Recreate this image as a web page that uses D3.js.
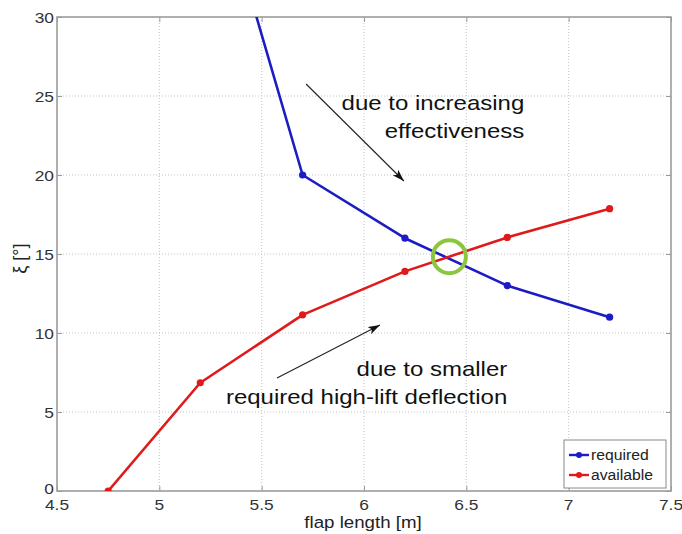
<!DOCTYPE html>
<html>
<head>
<meta charset="utf-8">
<script src="https://cdn.jsdelivr.net/npm/d3@7"></script>
<style>
  html, body { margin: 0; padding: 0; background: #fff; }
  svg { display: block; }
  text { font-family: "Liberation Sans", Arial, sans-serif; }
</style>
</head>
<body>
<script>
// ---- data ----
const xTicks = [4.5, 5, 5.5, 6, 6.5, 7, 7.5];
const yTicks = [0, 5, 10, 15, 20, 25, 30];
const requiredX = [5.2, 5.7, 6.2, 6.7, 7.2];
const requiredY = [42.2, 20.0, 16.0, 13.0, 11.0];
const availableX = [4.75, 5.2, 5.7, 6.2, 6.7, 7.2];
const availableY = [0.0, 6.85, 11.15, 13.9, 16.05, 17.87];
const seriesNames = ["required", "available"];
const seriesColors = ["#1c1cc4", "#e01a1a"];
const annotations = [
  { text: "due to increasing", x: 6.783, y: 24.11 },
  { text: "effectiveness", x: 6.783, y: 22.34 },
  { text: "due to smaller", x: 6.70, y: 7.28 },
  { text: "required high-lift deflection", x: 6.70, y: 5.5 }
];
const arrows = [
  { x1: 5.717, y1: 25.76, x2: 6.195, y2: 19.62 },
  { x1: 5.575, y1: 7.15, x2: 6.078, y2: 10.5 }
];
const highlight = { x: 6.417, y: 14.83 };

// ---- layout ----
const W = 682, H = 534;
const L = 57, R = 671, T = 17, B = 491;
const svg = d3.select("body").append("svg").attr("width", W).attr("height", H);
const x = d3.scaleLinear().domain([4.5, 7.5]).range([L, R]);
const y = d3.scaleLinear().domain([0, 30]).range([B, T]);

const defs = svg.append("defs");
defs.append("clipPath").attr("id", "clip").append("rect")
  .attr("x", L).attr("y", T).attr("width", R - L).attr("height", B - T);
defs.append("marker").attr("id", "ah").attr("viewBox", "0 0 12 8")
  .attr("refX", 12).attr("refY", 4).attr("markerWidth", 12).attr("markerHeight", 8)
  .attr("markerUnits", "userSpaceOnUse").attr("orient", "auto")
  .append("path").attr("d", "M0,0 L12,4 L0,8 L3,4 Z").attr("fill", "#111");

// grid
const grid = svg.append("g");
grid.selectAll("line.gx").data(xTicks.slice(1, -1)).join("line")
  .attr("x1", d => x(d)).attr("x2", d => x(d)).attr("y1", T).attr("y2", B)
  .attr("stroke", "#c4c4c4").attr("stroke-width", 1).attr("stroke-dasharray", "1,2");
grid.selectAll("line.gy").data(yTicks.slice(1, -1)).join("line")
  .attr("y1", d => y(d)).attr("y2", d => y(d)).attr("x1", L).attr("x2", R)
  .attr("stroke", "#c4c4c4").attr("stroke-width", 1).attr("stroke-dasharray", "1,2");

// axes via d3
const axX = svg.append("g").attr("transform", `translate(0,${B})`)
  .call(d3.axisTop(x).tickValues(xTicks).tickSize(5).tickFormat(""));
const axY = svg.append("g").attr("transform", `translate(${L},0)`)
  .call(d3.axisRight(y).tickValues(yTicks).tickSize(5).tickFormat(""));
const axX2 = svg.append("g").attr("transform", `translate(0,${T})`)
  .call(d3.axisBottom(x).tickValues(xTicks).tickSize(5).tickFormat(""));
const axY2 = svg.append("g").attr("transform", `translate(${R},0)`)
  .call(d3.axisLeft(y).tickValues(yTicks).tickSize(5).tickFormat(""));
[axX, axY, axX2, axY2].forEach(a => {
  a.selectAll("path.domain").remove();
  a.selectAll("line").attr("stroke", "#9a9a9a");
});
svg.append("rect").attr("x", L).attr("y", T).attr("width", R - L).attr("height", B - T)
  .attr("fill", "none").attr("stroke", "#9c9c9c").attr("stroke-width", 1.6);

// tick labels (slightly horizontally stretched like the reference)
const sx = 1.12;
svg.append("g").selectAll("text").data(xTicks).join("text")
  .attr("transform", d => `translate(${x(d)},${B + 19}) scale(${sx},1)`)
  .attr("text-anchor", "middle").attr("font-size", 15.5).attr("fill", "#333")
  .text(d => d);
svg.append("g").selectAll("text").data(yTicks).join("text")
  .attr("transform", d => `translate(${L - 3},${y(d) + (d === 0 ? 3 : 5.5)}) scale(${sx},1)`)
  .attr("text-anchor", "end").attr("font-size", 15.5).attr("fill", "#333")
  .text(d => d);

// axis titles
svg.append("text").attr("transform", `translate(${(L + R) / 2 - 1},${B + 37}) scale(1.1,1)`)
  .attr("text-anchor", "middle").attr("font-size", 17).attr("fill", "#222")
  .text("flap length [m]");
svg.append("text").attr("transform", `translate(26,${y(14.7)}) rotate(-90)`)
  .attr("text-anchor", "middle").attr("font-size", 18).attr("fill", "#222")
  .text("ξ [°]");

// series
const line = d3.line().x(d => x(d[0])).y(d => y(d[1]));
const series = [
  d3.zip(requiredX, requiredY),
  d3.zip(availableX, availableY)
];
const plot = svg.append("g").attr("clip-path", "url(#clip)");
series.forEach((pts, i) => {
  plot.append("path").datum(pts).attr("d", line).attr("fill", "none")
    .attr("stroke", seriesColors[i]).attr("stroke-width", 2.6).attr("stroke-linejoin", "round");
  plot.selectAll(null).data(pts).join("circle")
    .attr("cx", d => x(d[0])).attr("cy", d => y(d[1])).attr("r", 3.6)
    .attr("fill", seriesColors[i]);
});

// highlight circle
svg.append("circle").attr("cx", x(highlight.x)).attr("cy", y(highlight.y)).attr("r", 16.5)
  .attr("fill", "none").attr("stroke", "#8cc63f").attr("stroke-width", 4);

// arrows
svg.append("g").selectAll("line").data(arrows).join("line")
  .attr("x1", d => x(d.x1)).attr("y1", d => y(d.y1))
  .attr("x2", d => x(d.x2)).attr("y2", d => y(d.y2))
  .attr("stroke", "#222").attr("stroke-width", 1.1).attr("marker-end", "url(#ah)");

// annotations
svg.append("g").selectAll("text").data(annotations).join("text")
  .attr("transform", d => `translate(${x(d.x)},${y(d.y)}) scale(1.2,1)`)
  .attr("text-anchor", "end").attr("font-size", 20).attr("fill", "#111")
  .text(d => d.text);

// legend
const lg = svg.append("g");
lg.append("rect").attr("x", 564).attr("y", 440).attr("width", 102).attr("height", 48)
  .attr("fill", "#fff").attr("stroke", "#8a8a8a").attr("stroke-width", 1);
seriesNames.forEach((n, i) => {
  const yy = 455 + i * 20;
  lg.append("line").attr("x1", 569).attr("x2", 589).attr("y1", yy).attr("y2", yy)
    .attr("stroke", seriesColors[i]).attr("stroke-width", 2.4);
  lg.append("circle").attr("cx", 579).attr("cy", yy).attr("r", 3).attr("fill", seriesColors[i]);
  lg.append("text").attr("transform", `translate(591,${yy + 5}) scale(1.05,1)`)
    .attr("font-size", 15).attr("fill", "#222").text(n);
});
</script>
</body>
</html>
